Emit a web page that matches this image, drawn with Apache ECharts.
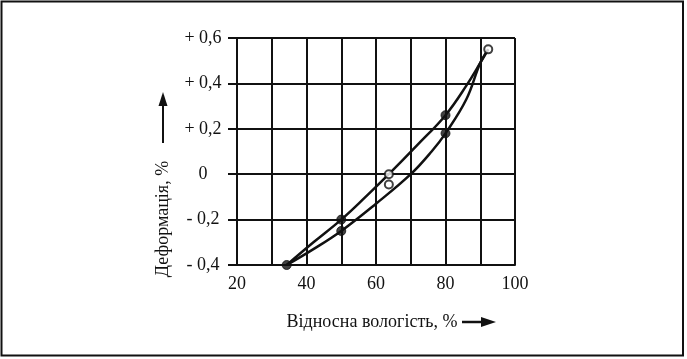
<!DOCTYPE html>
<html>
<head>
<meta charset="utf-8">
<style>
  html, body { margin: 0; padding: 0; background: #fff; }
  #chart { width: 687px; height: 359px; }
</style>
<script src="https://cdn.jsdelivr.net/npm/echarts@6/dist/echarts.min.js"></script>
</head>
<body>
<div id="chart"></div>
<script>
// ---- Data ----
const xAxisTitle = 'Відносна вологість, %';
const yAxisTitle = 'Деформація, %';
const xTickLabels = ['20', '40', '60', '80', '100'];
const yTickLabels = ['- 0,4', '- 0,2', '0', '+ 0,2', '+ 0,4', '+ 0,6'];

// smooth curve through upper branch
const upperCurve = [[34.3, -0.40], [42, -0.30], [50, -0.20], [57, -0.10], [63.7, 0.00], [72, 0.13], [80, 0.26], [86, 0.39], [90, 0.49], [92.3, 0.55]];
// smooth curve through lower branch
const lowerCurve = [[34.3, -0.40], [42, -0.33], [50, -0.25], [60, -0.13], [70, 0.00], [76, 0.10], [80, 0.18], [86, 0.33], [90, 0.49], [92.3, 0.55]];
// measured points
const filledPoints = [[34.3, -0.40], [50, -0.20], [50, -0.25], [80, 0.26], [80, 0.18]];
const openPoints = [[63.7, 0.00], [63.7, -0.045], [92.3, 0.55]];

const FONT = '"Liberation Serif", "DejaVu Serif", serif';
const chart = echarts.init(document.getElementById('chart'));

chart.setOption({
  backgroundColor: '#fff',
  animation: false,
  grid: { left: 237, right: 172, top: 38, bottom: 94, show: false },
  xAxis: {
    type: 'value', min: 20, max: 100, interval: 10,
    axisLine: { show: true, onZero: false, lineStyle: { color: '#111', width: 2 } },
    axisTick: { show: false },
    splitLine: { show: true, lineStyle: { color: '#111', width: 2 } },
    axisLabel: {
      margin: 10, color: '#111', fontFamily: FONT, fontSize: 18,
      showMinLabel: true, showMaxLabel: true,
      formatter: v => { const i = Math.round((v - 20) / 20); return Math.abs(v - (20 + i * 20)) < 1e-6 ? xTickLabels[i] : ''; }
    }
  },
  yAxis: {
    type: 'value', min: -0.4, max: 0.6, interval: 0.2,
    axisLine: { show: true, onZero: false, lineStyle: { color: '#111', width: 2 } },
    axisTick: { show: true, length: 9, lineStyle: { color: '#111', width: 2 } },
    splitLine: { show: true, lineStyle: { color: '#111', width: 2 } },
    axisLabel: {
      margin: 34, align: 'center', color: '#111', fontFamily: FONT, fontSize: 18,
      showMinLabel: true, showMaxLabel: true,
      formatter: v => yTickLabels[Math.round((v + 0.4) / 0.2)]
    }
  },
  series: [
    { type: 'line', data: upperCurve, smooth: 0.4, showSymbol: false, lineStyle: { color: '#111', width: 2.5 }, z: 3 },
    { type: 'line', data: lowerCurve, smooth: 0.4, showSymbol: false, lineStyle: { color: '#111', width: 2.5 }, z: 3 },
    { type: 'scatter', data: filledPoints, symbol: 'circle', symbolSize: 9,
      itemStyle: { color: '#111', borderColor: '#111', borderWidth: 1 }, z: 5 },
    { type: 'scatter', data: openPoints, symbol: 'circle', symbolSize: 8,
      itemStyle: { color: '#fff', borderColor: '#111', borderWidth: 2 }, z: 5 }
  ],
  graphic: [
    { type: 'rect', shape: { x: 1.5, y: 1.5, width: 681.5, height: 354 },
      style: { fill: 'none', stroke: '#111', lineWidth: 2 }, silent: true },
    // y title
    { type: 'text', x: 163, y: 219, rotation: Math.PI / 2,
      style: { text: yAxisTitle, font: '18px ' + FONT, fill: '#111', textAlign: 'center', textVerticalAlign: 'middle' } },
    { type: 'line', shape: { x1: 163, y1: 143, x2: 163, y2: 104 }, style: { stroke: '#111', lineWidth: 2 } },
    { type: 'polygon', shape: { points: [[163, 92], [158.5, 106], [167.5, 106]] }, style: { fill: '#111' } },
    // x title
    { type: 'text', x: 372, y: 322,
      style: { text: xAxisTitle, font: '18px ' + FONT, fill: '#111', textAlign: 'center', textVerticalAlign: 'middle' } },
    { type: 'line', shape: { x1: 462, y1: 322, x2: 484, y2: 322 }, style: { stroke: '#111', lineWidth: 2.5 } },
    { type: 'polygon', shape: { points: [[496, 322], [481, 317], [481, 327]] }, style: { fill: '#111' } }
  ]
});
</script>
</body>
</html>
